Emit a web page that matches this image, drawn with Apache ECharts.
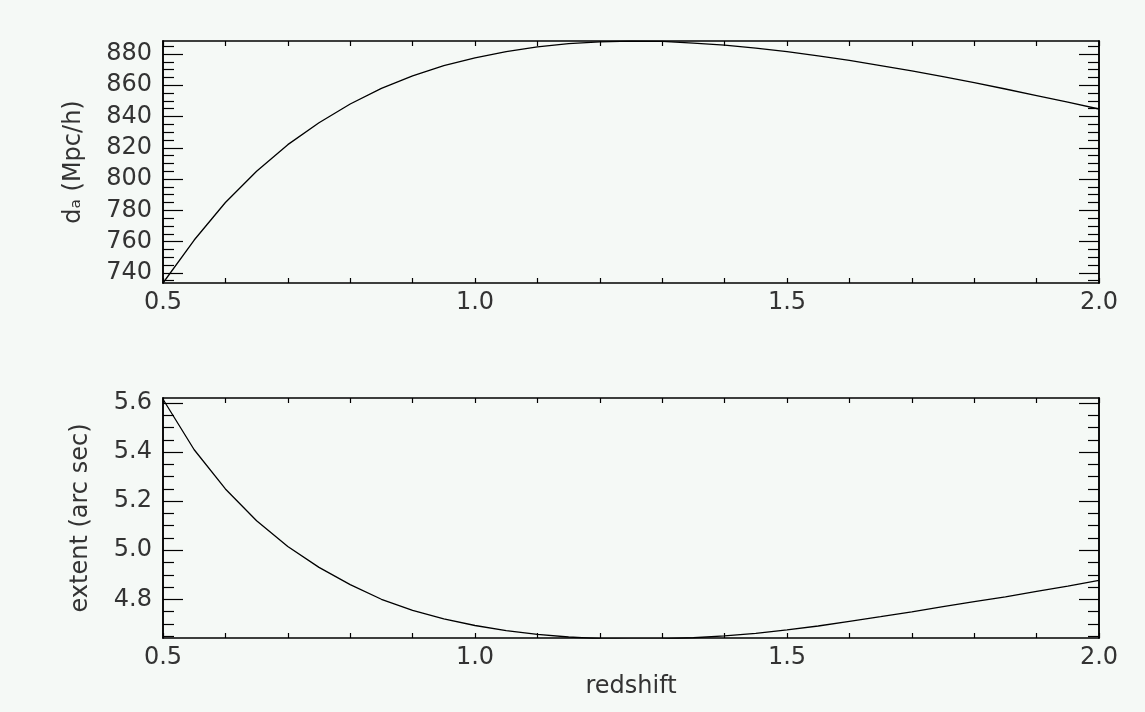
<!DOCTYPE html>
<html lang="en">
<head>
    <meta charset="UTF-8">
    <title>d_a and extent vs redshift</title>
    <script src="https://cdn.jsdelivr.net/npm/echarts@6/dist/echarts.min.js"></script>
</head>
<style>
    body{
        margin: 0;
        background-color: #f5f9f6;
    }
    #chart{
        width: 1145px;
        height: 712px;
    }
</style>
<body>
    <div id="chart"></div>
</body>
<script>
    // redshift samples (every 0.05)
    var redshift = [0.50, 0.55, 0.60, 0.65, 0.70, 0.75, 0.80, 0.85, 0.90, 0.95,
        1.00, 1.05, 1.10, 1.15, 1.20, 1.25, 1.30, 1.35, 1.40, 1.45,
        1.50, 1.55, 1.60, 1.65, 1.70, 1.75, 1.80, 1.85, 1.90, 1.95, 2.00];
    // angular diameter distance, Mpc/h
    var dA = [733.5, 761, 785, 805, 822, 836, 848, 858, 866, 872.5,
        877.5, 881.5, 884.5, 886.6, 887.8, 888.2, 888, 887, 885.6, 883.8,
        881.5, 878.8, 875.9, 872.6, 869.2, 865.5, 861.7, 857.6, 853.4, 849.2, 844.8];
    // extent, arc sec
    var extent = [5.616, 5.41, 5.25, 5.12, 5.015, 4.93, 4.86, 4.80, 4.755, 4.72,
        4.693, 4.672, 4.657, 4.646, 4.639, 4.637, 4.638, 4.643, 4.651, 4.661,
        4.675, 4.691, 4.71, 4.729, 4.749, 4.77, 4.79, 4.81, 4.832, 4.854, 4.877];

    var dATicks = [740, 760, 780, 800, 820, 840, 860, 880];
    var dAMinorTicks = [735, 745, 750, 755, 765, 770, 775, 785, 790, 795, 805, 810, 815,
        825, 830, 835, 845, 850, 855, 865, 870, 875, 885];
    var extentTicks = [4.8, 5.0, 5.2, 5.4, 5.6];
    var extentMinorTicks = [4.65, 4.70, 4.75, 4.85, 4.90, 4.95, 5.05, 5.10, 5.15,
        5.25, 5.30, 5.35, 5.45, 5.50, 5.55];

    var font = '"DejaVu Sans", sans-serif';
    var ink = '#333';
    var fsize = 24;

    function pairs(xs, ys) {
        var out = [];
        for (var i = 0; i < xs.length; i++) out.push([xs[i], ys[i]]);
        return out;
    }

    function xAxisOf(grid, pos, withLabels, name) {
        return {
            type: 'value', gridIndex: grid, position: pos,
            min: 0.5, max: 2.0, interval: 0.5,
            name: name || '', nameLocation: 'middle', nameGap: 37,
            nameTextStyle: {fontFamily: font, fontSize: fsize, color: ink},
            axisLine: {show: true, onZero: false, lineStyle: {color: '#000', width: 1.5}},
            axisTick: {show: true, inside: true, length: 5, lineStyle: {color: '#000', width: 1.2}},
            minorTick: {show: true, splitNumber: 5, length: 5, lineStyle: {color: '#000', width: 1.2}},
            axisLabel: {show: withLabels, margin: 8, fontFamily: font, fontSize: fsize, color: ink,
                formatter: function (v) { return v.toFixed(1); }},
            splitLine: {show: false}, minorSplitLine: {show: false}
        };
    }

    function yAxisOf(grid, pos, lo, hi, ticks, len, labels, digits, name, gap) {
        return {
            type: 'value', gridIndex: grid, position: pos, min: lo, max: hi,
            name: name || '', nameLocation: 'middle', nameGap: gap || 0, nameRotate: 90,
            nameTextStyle: {fontFamily: font, fontSize: fsize, color: ink},
            axisLine: {show: true, onZero: false, lineStyle: {color: '#000', width: 1.5}},
            axisTick: {show: true, inside: true, length: len, customValues: ticks,
                lineStyle: {color: '#000', width: 1.2}},
            axisLabel: {show: labels, margin: 11, fontFamily: font, fontSize: fsize, color: ink,
                customValues: ticks,
                formatter: function (v) { return v.toFixed(digits); }},
            splitLine: {show: false}
        };
    }

    var chart = echarts.init(document.getElementById('chart'));
    var option = {
        animation: false,
        backgroundColor: '#f5f9f6',
        grid: [
            {left: 163, right: 46, top: 41, height: 242},
            {left: 163, right: 46, top: 398, height: 240}
        ],
        xAxis: [
            xAxisOf(0, 'bottom', true),
            xAxisOf(0, 'top', false),
            xAxisOf(1, 'bottom', true, 'redshift'),
            xAxisOf(1, 'top', false)
        ],
        yAxis: [
            yAxisOf(0, 'left', 733.5, 888.3, dATicks, 20, true, 0, 'dₐ (Mpc/h)', 77),
            yAxisOf(0, 'left', 733.5, 888.3, dAMinorTicks, 11, false, 0),
            yAxisOf(0, 'right', 733.5, 888.3, dATicks, 20, false, 0),
            yAxisOf(0, 'right', 733.5, 888.3, dAMinorTicks, 11, false, 0),
            yAxisOf(1, 'left', 4.642, 5.621, extentTicks, 20, true, 1, 'extent (arc sec)', 70),
            yAxisOf(1, 'left', 4.642, 5.621, extentMinorTicks, 11, false, 1),
            yAxisOf(1, 'right', 4.642, 5.621, extentTicks, 20, false, 1),
            yAxisOf(1, 'right', 4.642, 5.621, extentMinorTicks, 11, false, 1)
        ],
        series: [
            {
                type: 'line', xAxisIndex: 0, yAxisIndex: 0,
                showSymbol: false, smooth: false,
                lineStyle: {color: '#000', width: 1.3},
                data: pairs(redshift, dA)
            },
            {
                type: 'line', xAxisIndex: 2, yAxisIndex: 4,
                showSymbol: false, smooth: false,
                lineStyle: {color: '#000', width: 1.3},
                data: pairs(redshift, extent)
            }
        ]
    };
    chart.setOption(option);
</script>
</html>
